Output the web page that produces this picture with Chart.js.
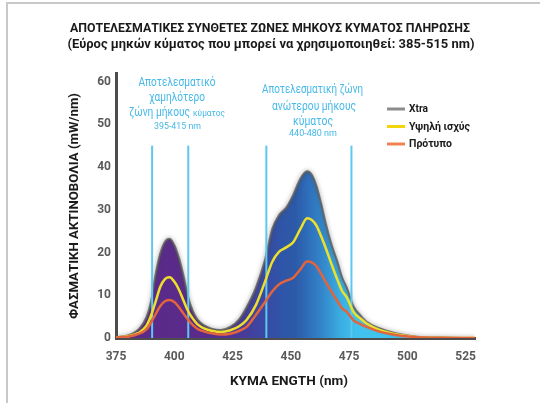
<!DOCTYPE html>
<html>
<head>
<meta charset="utf-8">
<script src="https://cdn.jsdelivr.net/npm/chart.js@4"></script>
<style>
  html,body{margin:0;padding:0;background:#fff;}
  #c{display:block;}
</style>
</head>
<body>
<canvas id="c" width="540" height="403"></canvas>
<script>
// ---------- DATA ----------
const wavelengths = [375,380,385,388,390,392,394,396,398,400,402,404,406,408,410,413,416,420,424,428,431,435,439,442,445,448,451,454,457,459,461,463,465,467.5,470,472,474,477,480,482.5,488,495,504,514,529];
const xtraValues  = [0.2,0.6,2.2,4.8,8.5,15,19.8,22.5,23.2,21.8,18.8,14.5,9.5,6.3,4.3,2.9,2.2,1.9,2.6,4.5,7.2,11.8,18.5,25.5,28.8,30.5,33.5,37.2,39,38.2,35.6,31.5,26.8,21.8,17.8,14.2,11.8,7.3,5.2,3.8,2.3,1.1,0.3,0.1,0];
const highPowerValues = [0.1,0.4,1.3,2.8,5.2,8.5,12,13.8,14.2,13.2,11.3,8.7,6.2,4.5,3.2,2.2,1.7,1.4,1.8,2.8,4.2,7.7,13.3,17.8,20.2,21.2,22.4,25.4,28,27.6,26.3,23.8,21,17.2,13.6,11,9.5,6,4.5,3.4,1.9,0.9,0.2,0.05,0];
const standardValues  = [0.1,0.3,1.0,2.0,3.6,5.6,7.5,8.6,8.9,8.4,7.2,5.7,4.2,3.0,2.1,1.5,1.1,0.8,1.0,1.7,2.6,5.4,8.5,10.9,12.6,13.4,14.1,16,17.9,17.7,16.8,15,13.1,10.8,8.6,6.9,6.1,4.1,3.2,2.6,1.5,0.7,0.2,0.05,0];
const seriesNames = ['Xtra','Υψηλή ισχύς','Πρότυπο'];
const bandEdges = [390.5,406,439.5,476];
const bandTop = 45;
const xTickValues = [375,400,425,450,475,500,525];
const yTickValues = [0,10,20,30,40,50,60];
const titleLines = ['ΑΠΟΤΕΛΕΣΜΑΤΙΚΕΣ ΣΥΝΘΕΤΕΣ ΖΩΝΕΣ ΜΗΚΟΥΣ ΚΥΜΑΤΟΣ ΠΛΗΡΩΣΗΣ','(Εύρος μηκών κύματος που μπορεί να χρησιμοποιηθεί: 385-515 nm)'];
const xAxisTitle = 'ΚΥΜΑ ENGTH (nm)';
const yAxisTitle = 'ΦΑΣΜΑΤΙΚΗ ΑΚΤΙΝΟΒΟΛΙΑ (mW/nm)';
const lowBandText = ['Αποτελεσματικό','χαμηλότερο','ζώνη μήκους','κύματος','395-415 nm'];
const highBandText = ['Αποτελεσματική ζώνη','ανώτερου μήκους','κύματος','440-480 nm'];

// ---------- STYLE ----------
const colXtraBorder = 'rgba(95,95,95,0.85)';
const colYellow = '#ece02a';
const colOrange = '#e2643c';
const colBand = '#5cc8f0';
const colAnno = '#45b9e8';
const gradStops = [[375,'#5b2a89'],[412,'#5a2b8b'],[425,'#4e3494'],[437,'#3c47a2'],[446,'#2f55a8'],[452,'#2c5aa8'],[457,'#2e6cb9'],[464,'#3389cc'],[471,'#3aace0'],[478,'#40c2ed'],[529,'#45c8f0']];

const pts = vals => wavelengths.map((w,i)=>({x:w,y:vals[i]}));

const bandDatasets = bandEdges.map(e => ({
  label:'_band', data:[{x:e,y:0},{x:e,y:bandTop}],
  borderColor:colBand, borderWidth:2, pointRadius:0, fill:false, order:4, tension:0
}));

function fitText(ctx, text, x, y, font, color, targetW, align, rot){
  ctx.save();
  ctx.font = font; ctx.fillStyle = color; ctx.textBaseline = 'middle';
  const w = ctx.measureText(text).width;
  const s = targetW ? targetW / w : 1;
  ctx.translate(x, y);
  if (rot) ctx.rotate(rot);
  ctx.scale(s, 1);
  ctx.textAlign = align || 'center';
  ctx.fillText(text, 0, 0);
  ctx.restore();
}

const decor = {
  id:'decor',
  beforeDraw(chart){
    const ctx = chart.ctx;
    ctx.save();
    ctx.fillStyle = '#fff'; ctx.fillRect(0,0,chart.width,chart.height);
    ctx.strokeStyle = '#c9c9c9'; ctx.lineWidth = 2;
    ctx.beginPath(); ctx.moveTo(7,403); ctx.lineTo(7,3); ctx.lineTo(540,3); ctx.stroke();
    ctx.restore();
  },
  beforeDatasetDraw(chart, args){
    if (args.index === 0){
      chart.ctx.save();
      chart.ctx.shadowColor = 'rgba(70,70,70,0.7)';
      chart.ctx.shadowBlur = 4;
    }
  },
  afterDatasetDraw(chart, args){
    if (args.index === 0) chart.ctx.restore();
  },
  afterDraw(chart){
    const ctx = chart.ctx;
    const B = '"Roboto","Open Sans",sans-serif';
    // Title
    fitText(ctx, titleLines[0], 270, 29, 'bold 13px '+B, '#1a1a1a', 400);
    fitText(ctx, titleLines[1], 271, 45, 'bold 13px '+B, '#1a1a1a', 407);
    // Axis titles
    fitText(ctx, xAxisTitle, 289, 382, 'bold 13px '+B, '#1a1a1a', 118);
    fitText(ctx, yAxisTitle, 75, 206, 'bold 13px '+B, '#1a1a1a', 226, 'center', -Math.PI/2);
    // Annotations
    const L = '400 12.5px '+B, S = '400 9.5px '+B;
    fitText(ctx, lowBandText[0], 177, 83, L, colAnno, 77);
    fitText(ctx, lowBandText[1], 177, 98, L, colAnno, 56);
    fitText(ctx, lowBandText[2], 129, 113, L, colAnno, 61, 'left');
    fitText(ctx, lowBandText[3], 193, 114, S, colAnno, 32, 'left');
    fitText(ctx, lowBandText[4], 177.5, 127, S, colAnno, 47);
    fitText(ctx, highBandText[0], 312.5, 90, L, colAnno, 101);
    fitText(ctx, highBandText[1], 314, 107, L, colAnno, 84);
    fitText(ctx, highBandText[2], 313, 122, L, colAnno, 40);
    fitText(ctx, highBandText[3], 313, 134, S, colAnno, 48);
    // Legend
    const legCols = ['#8c8c8c','#f3d60a','#f08252'];
    const legW = [19,61,43];
    const legY = [109,126.5,144];
    chart.data.datasets.slice(0,3).forEach((ds,i)=>{
      ctx.save();
      ctx.strokeStyle = legCols[i]; ctx.lineWidth = 3;
      ctx.beginPath(); ctx.moveTo(387,legY[i]); ctx.lineTo(405,legY[i]); ctx.stroke();
      ctx.restore();
      fitText(ctx, ds.label, 409, legY[i]+0.5, 'bold 11px '+B, '#1a1a1a', legW[i], 'left');
    });
  }
};

new Chart(document.getElementById('c'), {
  type:'line',
  data:{
    datasets:[
      { label:seriesNames[0], data:pts(xtraValues), order:5,
        borderColor:colXtraBorder, borderWidth:2, pointRadius:0,
        cubicInterpolationMode:'monotone', fill:'origin',
        backgroundColor:(c)=>{
          const ch = c.chart, a = ch.chartArea;
          if (!a) return '#3c4ca4';
          const xs = ch.scales.x;
          const x0 = xs.getPixelForValue(375), x1 = xs.getPixelForValue(529);
          const g = ch.ctx.createLinearGradient(x0,0,x1,0);
          gradStops.forEach(([w,col])=>g.addColorStop((w-375)/(529-375), col));
          return g;
        } },
      { label:seriesNames[1], data:pts(highPowerValues), order:2,
        borderColor:colYellow, borderWidth:2.5, pointRadius:0,
        cubicInterpolationMode:'monotone', fill:false },
      { label:seriesNames[2], data:pts(standardValues), order:1,
        borderColor:colOrange, borderWidth:2.5, pointRadius:0,
        cubicInterpolationMode:'monotone', fill:false },
      ...bandDatasets
    ]
  },
  options:{
    responsive:false, animation:false, devicePixelRatio:1,
    layout:{padding:{left:0, top:73, right:65, bottom:35}},
    plugins:{legend:{display:false}, title:{display:false}, tooltip:{enabled:false}},
    scales:{
      x:{ type:'linear', min:375, max:529,
        afterFit:s=>{s.height=30;},
        afterBuildTicks:s=>{s.ticks = xTickValues.map(v=>({value:v}));},
        ticks:{ padding:12, color:'#5a5a5a', font:{family:'Roboto', weight:'bold', size:12}, maxRotation:0, autoSkip:false },
        grid:{display:false, drawTicks:false},
        border:{display:true, color:'#4d4d4d', width:3}
      },
      y:{ type:'linear', min:0, max:62,
        afterFit:s=>{s.width=116;},
        afterBuildTicks:s=>{s.ticks = yTickValues.map(v=>({value:v}));},
        ticks:{ padding:5, color:'#5a5a5a', font:{family:'Roboto', weight:'bold', size:12} },
        grid:{display:false, drawTicks:false},
        border:{display:true, color:'#4d4d4d', width:3}
      }
    }
  },
  plugins:[decor]
});
</script>
</body>
</html>
